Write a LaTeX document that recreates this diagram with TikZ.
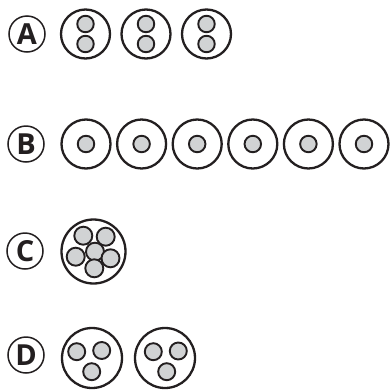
\documentclass[tikz,border=0pt]{standalone}
\usepackage{fontspec}
\setsansfont{Open Sans}
\usepackage{tikz}
\usetikzlibrary{positioning}
\definecolor{ink}{RGB}{35,31,32}
\definecolor{coregray}{RGB}{209,211,212}

\begin{document}
\begin{tikzpicture}[x=1pt,y=-1pt,
  tag/.style={circle,draw=ink,line width=1.5pt,minimum size=36pt,inner sep=0pt,text=ink,font=\sffamily\bfseries\fontsize{29}{29}\selectfont},
  cell/.style={circle,draw=ink,line width=2.3pt,minimum size=49pt,inner sep=0pt},
  bigcell/.style={cell,minimum size=64pt},
  midcell/.style={cell,minimum size=60pt},
  core/.style={circle,draw=ink,fill=coregray,line width=1.9pt,minimum size=16.5pt,inner sep=0pt},
  bigcore/.style={core,minimum size=18pt}]

\useasboundingbox (0,0) rectangle (391,389);

% row A
\node[tag] (tagA) at (27,34) {A};
\node[cell] (cellA1) at (85.5,34) {};
\node[cell] (cellA2) at (146,34) {};
\node[cell] (cellA3) at (206.5,34) {};
\foreach \cx [count=\i] in {85.5,146,206.5}{
  \node[core] (coreA\i a) at (\cx,24) {};
  \node[core] (coreA\i b) at (\cx,44) {};
}

% row B
\node[tag] (tagB) at (26,144) {B};
\foreach \i in {0,...,5}{
  \node[cell] (cellB\i) at (86+55.6*\i,144) {};
  \node[core] (coreB\i) at (86+55.6*\i,144) {};
}

% row C
\node[tag] (tagC) at (25,251) {C};
\node[bigcell] (cellC) at (93.5,251.5) {};
\node[bigcore] (coreC1) at (83.3,235.7) {};
\node[bigcore] (coreC2) at (105.7,236.7) {};
\node[bigcore] (coreC3) at (95,251.7) {};
\node[bigcore] (coreC4) at (75.7,256.7) {};
\node[bigcore] (coreC5) at (110.5,258.3) {};
\node[bigcore] (coreC6) at (94.3,268.3) {};

% row D
\node[tag] (tagD) at (26,355) {D};
\node[midcell] (cellD1) at (92,358) {};
\node[midcell] (cellD2) at (165,358) {};
\node[bigcore,minimum size=17pt] (coreD1a) at (76.7,351.7) {};
\node[bigcore,minimum size=17pt] (coreD1b) at (101.7,350.5) {};
\node[bigcore,minimum size=17pt] (coreD1c) at (91.7,371.7) {};
\node[bigcore,minimum size=17pt] (coreD2a) at (153.3,351.7) {};
\node[bigcore,minimum size=17pt] (coreD2b) at (178.3,351) {};
\node[bigcore,minimum size=17pt] (coreD2c) at (166.7,371.7) {};
\end{tikzpicture}
\end{document}
